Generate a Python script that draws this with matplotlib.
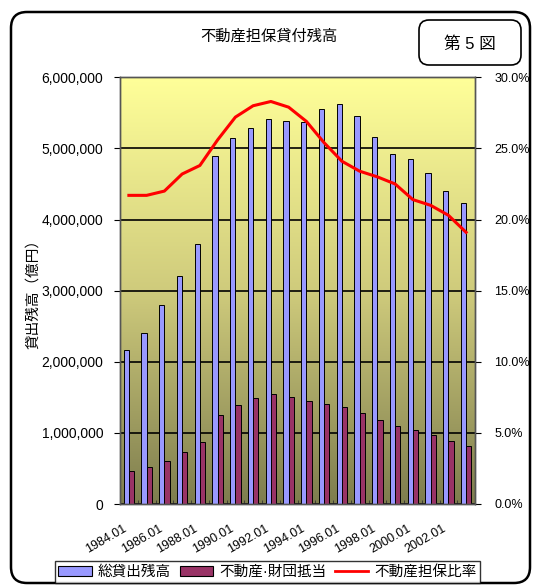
import numpy as np
import matplotlib
matplotlib.use("Agg")
import matplotlib.pyplot as plt
import matplotlib.transforms as mtransforms
from matplotlib.patches import FancyBboxPatch, Patch
from matplotlib.lines import Line2D
from matplotlib.colors import LinearSegmentedColormap

plt.rcParams['font.family'] = ['Liberation Sans', 'Noto Sans CJK JP']

# data
years = ['1984.01', '1985.01', '1986.01', '1987.01', '1988.01', '1989.01', '1990.01',
         '1991.01', '1992.01', '1993.01', '1994.01', '1995.01', '1996.01', '1997.01',
         '1998.01', '1999.01', '2000.01', '2001.01', '2002.01', '2003.01']
total = [2160000, 2400000, 2800000, 3200000, 3650000, 4890000, 5140000, 5290000,
         5420000, 5390000, 5370000, 5550000, 5630000, 5450000, 5160000, 4920000,
         4850000, 4650000, 4400000, 4230000]
realestate = [470000, 525000, 610000, 737000, 869000, 1253000, 1394000, 1489000,
              1540000, 1503000, 1451000, 1413000, 1362000, 1277000, 1179000, 1099000,
              1038000, 972000, 883000, 817000]
ratio = [21.7, 21.7, 22.0, 23.2, 23.8, 25.6, 27.2, 28.0, 28.3, 27.9, 26.9, 25.4,
         24.1, 23.4, 23.0, 22.5, 21.4, 21.0, 20.3, 19.1]

title = '不動産担保貸付残高'
labels = ['総貸出残高', '不動産·財団抵当', '不動産担保比率']

fig = plt.figure(figsize=(5.33, 5.85), dpi=100)
ax = fig.add_axes([120/533, 1-504/585, 355/533, (504-77.3)/585])

x = np.arange(len(years))

# gradient background (olive at the bottom, pale yellow at the top)
cmap = LinearSegmentedColormap.from_list(
    'bg', [(0, '#7E7D4E'), (0.5, '#CFCB7C'), (1, '#FFFF99')])
grad = np.linspace(0, 1, 256).reshape(-1, 1)
ax.imshow(grad, cmap=cmap, origin='lower', aspect='auto',
          extent=[-0.5, len(years)-0.5, 0, 6000000], zorder=0)

ax.bar(x - 0.15, total, width=0.3, color='#9999FF', edgecolor='black', lw=0.7, zorder=2)
ax.bar(x + 0.15, realestate, width=0.3, color='#993366', edgecolor='black', lw=0.7, zorder=2)

ax.set_xlim(-0.5, len(years)-0.5)
ax.set_ylim(0, 6000000)
ax.set_yticks(np.arange(0, 6000001, 1000000))
ax.set_yticklabels(['{:,.0f}'.format(v) for v in np.arange(0, 6000001, 1000000)])
ax.yaxis.grid(True, color='black', lw=1.2)
ax.set_axisbelow(True)
ax.set_ylabel('貸出残高（億円）', fontsize=10.5, labelpad=1)
ax.tick_params(axis='y', labelsize=10, length=4, pad=8)

ax.set_xticks(x[::2])
ax.set_xticklabels(years[::2], rotation=30, ha='right', va='top',
                   rotation_mode='anchor', fontsize=9)
ax.tick_params(axis='x', length=0, pad=11)
# nudge the slanted labels left like the original
shift = mtransforms.ScaledTranslation(-0.06, -0.03, fig.dpi_scale_trans)
for lab in ax.get_xticklabels():
    lab.set_transform(lab.get_transform() + shift)
ax.set_xticks(np.arange(-0.5, len(years), 1), minor=True)
ax.tick_params(axis='x', which='minor', direction='in', length=3, color='#333333')

for s in ax.spines.values():
    s.set_color('#555555')
    s.set_linewidth(1)

ax2 = ax.twinx()
ax2.plot(x, ratio, color='red', lw=2.2)
ax2.set_ylim(0, 30)
ax2.set_yticks(np.arange(0, 31, 5))
ax2.set_yticklabels(['{:.1f}%'.format(v) for v in np.arange(0, 31, 5)])
ax2.tick_params(axis='y', labelsize=9, length=4, pad=10)
for s in ax2.spines.values():
    s.set_color('#555555')
    s.set_linewidth(1)

fig.text(269/533, 1-37/585, title, ha='center', va='center', fontsize=11)

# outer frame and figure number box
fig.patches.append(FancyBboxPatch((0.11, 0.02), 5.19, 5.71,
                                  boxstyle='round,pad=0,rounding_size=0.16',
                                  transform=fig.dpi_scale_trans, fc='none',
                                  ec='black', lw=1.8))
fig.patches.append(FancyBboxPatch((4.19, 5.20), 1.02, 0.45,
                                  boxstyle='round,pad=0,rounding_size=0.1',
                                  transform=fig.dpi_scale_trans, fc='white',
                                  ec='black', lw=1.2))
fig.text(470/533, 1-44/585, '第 5 図', ha='center', va='center', fontsize=12)

handles = [Patch(fc='#9999FF', ec='black', lw=0.8),
           Patch(fc='#993366', ec='black', lw=0.8),
           Line2D([0], [0], color='red', lw=2)]
leg = fig.legend(handles, labels, loc='center', bbox_to_anchor=(267.5/533, 1-572/585),
                 ncol=3, frameon=True, fancybox=False, edgecolor='black',
                 fontsize=10.5, handlelength=2.3, handleheight=0.7,
                 handletextpad=0.4, columnspacing=0.6, borderpad=0.25)
leg.get_frame().set_linewidth(1)

fig.savefig('out.png', dpi=100)
